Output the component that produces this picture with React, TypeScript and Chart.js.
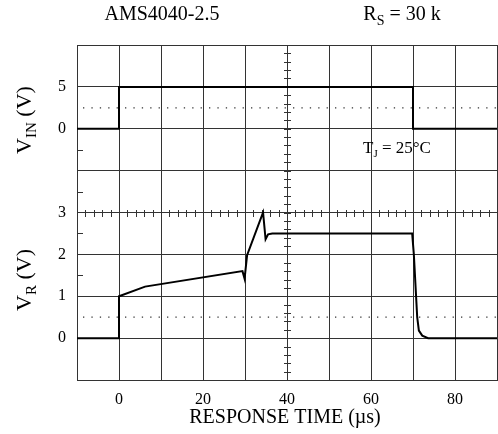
import { useEffect, useRef } from 'react';
import { Chart, registerables } from 'chart.js';
Chart.register(...registerables);

// ---- data ----
const timeVin = [-10, 0, 0, 70, 70, 90];
const vin = [0, 0, 5, 5, 0, 0];
const timeVr = [-10, 0, 0, 6.2, 29.4, 29.9, 30.5, 34.3, 34.9, 35.5, 36.5, 69.8, 70.2, 71.0, 71.4, 72.2, 73.6, 90];
const vr = [0, 0, 1.0, 1.23, 1.6, 1.42, 1.98, 3.0, 2.36, 2.48, 2.5, 2.5, 2.0, 0.5, 0.18, 0.06, 0, 0];
const xTickLabels = [0, 20, 40, 60, 80];
const vrTickLabels = [0, 1, 2, 3];
const vinTickLabels = [0, 5];
const vinRefLevel = 2.5;
const vrRefLevel = 0.5;
const leftBorderTicksVr = [1.5, 2.5, 3.5, 4.5];
const centerTime = 40;
const centerVr = 3;

const FONT = "'Liberation Serif', 'DejaVu Serif', serif";
const GRID = '#333';

function drawRich(ctx: CanvasRenderingContext2D, parts: { t: string; sub?: boolean }[], size: number, subSize: number, cx: number, cy: number, align: 'center' | 'left') {
  let total = 0;
  const widths = parts.map((p) => {
    ctx.font = `${p.sub ? subSize : size}px ${FONT}`;
    const w = ctx.measureText(p.t).width;
    total += w;
    return w;
  });
  let x = align === 'center' ? cx - total / 2 : cx;
  ctx.textBaseline = 'middle';
  ctx.textAlign = 'left';
  parts.forEach((p, i) => {
    ctx.font = `${p.sub ? subSize : size}px ${FONT}`;
    ctx.fillText(p.t, x, p.sub ? cy + size * 0.3 : cy);
    x += widths[i];
  });
}

const decorPlugin = {
  id: 'decor',
  beforeDatasetsDraw(chart: any) {
    const { ctx, chartArea, scales } = chart;
    const xs = scales.x;
    const ys = scales.yVr;
    ctx.save();
    ctx.strokeStyle = GRID;
    ctx.lineWidth = 1;
    ctx.beginPath();
    const cx = Math.round(xs.getPixelForValue(centerTime)) + 0.5;
    for (let v = ys.min; v <= ys.max + 1e-6; v += 0.2) {
      const y = Math.round(ys.getPixelForValue(v)) + 0.5;
      ctx.moveTo(cx - 3.5, y);
      ctx.lineTo(cx + 3.5, y);
    }
    const cy = Math.round(ys.getPixelForValue(centerVr)) + 0.5;
    for (let t = xs.min; t <= xs.max + 1e-6; t += 2) {
      const x = Math.round(xs.getPixelForValue(t)) + 0.5;
      ctx.moveTo(x, cy - 3.5);
      ctx.lineTo(x, cy + 3.5);
    }
    leftBorderTicksVr.forEach((v) => {
      const y = Math.round(ys.getPixelForValue(v)) + 0.5;
      ctx.moveTo(chartArea.left, y);
      ctx.lineTo(chartArea.left + 6, y);
    });
    ctx.stroke();
    ctx.restore();
  },
  afterDraw(chart: any) {
    const { ctx, chartArea, scales } = chart;
    const yin = scales.yVin;
    ctx.save();
    ctx.fillStyle = '#000';
    ctx.font = `16px ${FONT}`;
    ctx.textAlign = 'right';
    ctx.textBaseline = 'middle';
    vinTickLabels.forEach((v) => {
      ctx.fillText(String(v), chartArea.left - 11, yin.getPixelForValue(v));
    });
    ctx.font = `20px ${FONT}`;
    ctx.textAlign = 'center';
    ctx.fillText('AMS4040-2.5', 162, 15);
    drawRich(ctx, [{ t: 'R' }, { t: 'S', sub: true }, { t: ' = 30 k' }], 20, 14, 402, 15, 'center');
    drawRich(ctx, [{ t: 'T' }, { t: 'J', sub: true }, { t: ' = 25°C' }], 17, 11, 397, 149, 'center');
    ctx.font = `20px ${FONT}`;
    ctx.textAlign = 'center';
    ctx.textBaseline = 'middle';
    ctx.fillText('RESPONSE TIME (µs)', 285, 418);
    const rot = (cx: number, cy: number, parts: { t: string; sub?: boolean }[]) => {
      ctx.save();
      ctx.translate(cx, cy);
      ctx.rotate(-Math.PI / 2);
      drawRich(ctx, parts, 22, 15, 0, 0, 'center');
      ctx.restore();
    };
    rot(25, 120, [{ t: 'V' }, { t: 'IN', sub: true }, { t: ' (V)' }]);
    rot(25, 280, [{ t: 'V' }, { t: 'R', sub: true }, { t: ' (V)' }]);
    ctx.restore();
  },
};

export default function App() {
  const ref = useRef<HTMLCanvasElement>(null);
  useEffect(() => {
    if (!ref.current) return;
    Chart.defaults.font.family = FONT;
    Chart.defaults.color = '#000';
    const chart = new Chart(ref.current, {
      type: 'scatter',
      data: {
        datasets: [
          {
            data: [{ x: -10, y: vinRefLevel }, { x: 90, y: vinRefLevel }],
            yAxisID: 'yVin',
            showLine: true,
            borderColor: '#333',
            borderWidth: 1.3,
            borderDash: [1.3, 7.1],
            borderDashOffset: 2.4,
            pointRadius: 0,
          },
          {
            data: [{ x: -10, y: vrRefLevel }, { x: 90, y: vrRefLevel }],
            yAxisID: 'yVr',
            showLine: true,
            borderColor: '#333',
            borderWidth: 1.3,
            borderDash: [1.3, 7.1],
            borderDashOffset: 2.4,
            pointRadius: 0,
          },
          {
            data: timeVin.map((t, i) => ({ x: t, y: vin[i] })),
            yAxisID: 'yVin',
            showLine: true,
            borderColor: '#000',
            borderWidth: 2,
            pointRadius: 0,
            tension: 0,
          },
          {
            data: timeVr.map((t, i) => ({ x: t, y: vr[i] })),
            yAxisID: 'yVr',
            showLine: true,
            borderColor: '#000',
            borderWidth: 2,
            pointRadius: 0,
            tension: 0,
          },
        ],
      },
      options: {
        animation: false,
        responsive: false,
        devicePixelRatio: 1,
        layout: { padding: { top: 45, right: 1, left: 0, bottom: 0 } },
        plugins: { legend: { display: false }, tooltip: { enabled: false } },
        scales: {
          x: {
            type: 'linear',
            min: -10,
            max: 90,
            afterFit: (s: any) => { s.height = 54; s.paddingLeft = 0; s.paddingRight = 0; },
            ticks: {
              stepSize: 10,
              padding: 10,
              maxRotation: 0,
              font: { size: 16 },
              callback: (v: any) => (xTickLabels.includes(Number(v)) ? String(v) : ''),
            },
            grid: { color: GRID, lineWidth: 1, drawTicks: false },
            border: { color: GRID, width: 1 },
          },
          yVr: {
            type: 'linear',
            position: 'left',
            min: -1,
            max: 7,
            afterFit: (s: any) => { s.width = 77; s.paddingTop = 0; s.paddingBottom = 0; },
            ticks: {
              stepSize: 1,
              padding: 11,
              font: { size: 16 },
              callback: (v: any) => (vrTickLabels.includes(Number(v)) ? String(v) : ''),
            },
            grid: { color: GRID, lineWidth: 1, drawTicks: false },
            border: { color: GRID, width: 1 },
          },
          yVin: {
            type: 'linear',
            display: false,
            min: -30,
            max: 10,
          },
        },
      },
      plugins: [decorPlugin],
    } as any);
    return () => chart.destroy();
  }, []);
  return (
    <div style={{ position: 'fixed', left: 0, top: 0, width: 498, height: 434 }}>
      <canvas ref={ref} width={498} height={434} />
    </div>
  );
}
